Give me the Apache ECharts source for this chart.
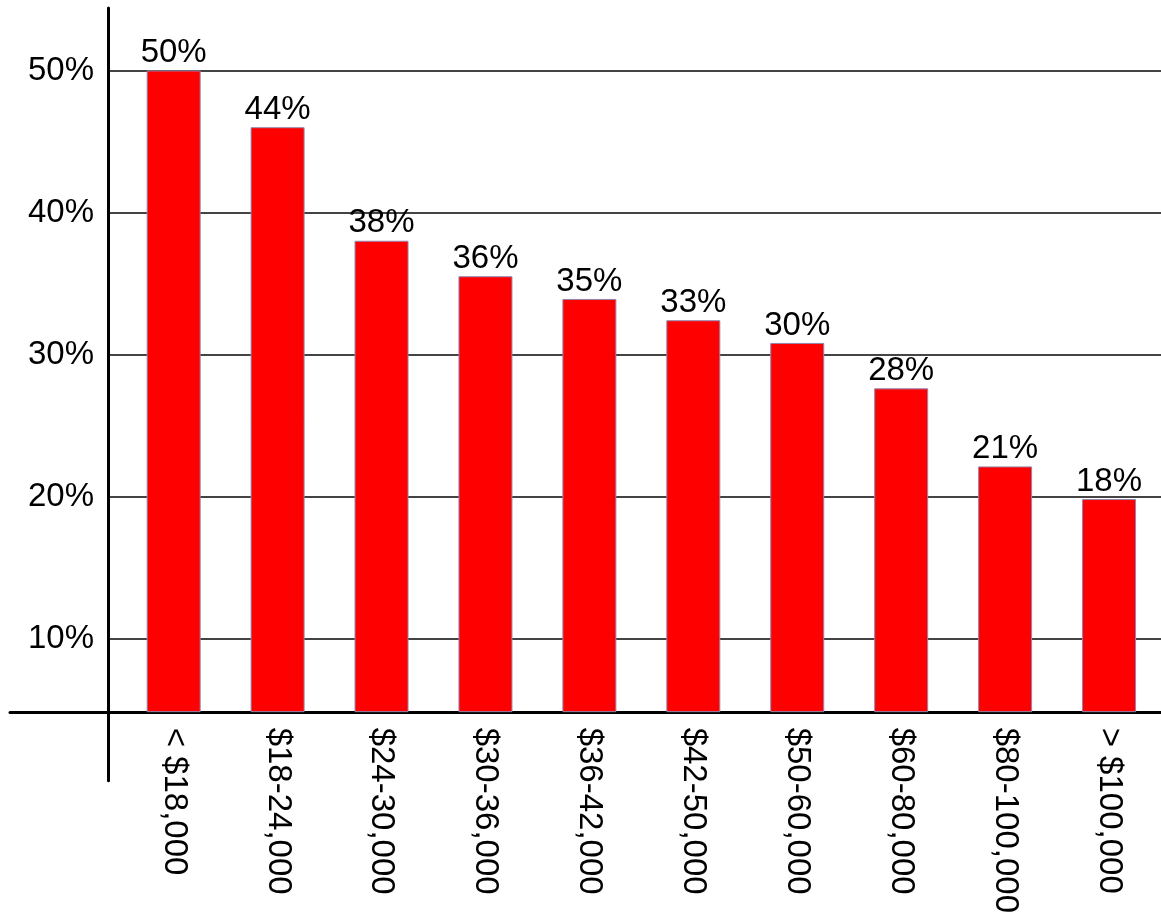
<!DOCTYPE html>
<html>
<head>
<meta charset="utf-8">
<style>
  html, body { margin: 0; padding: 0; background: #ffffff; }
  #chart { width: 1161px; height: 916px; }
</style>
<script src="https://cdn.jsdelivr.net/npm/echarts@6/dist/echarts.min.js"></script>
</head>
<body>
<div id="chart"></div>
<script>
const categories = ['< $18,000', '$18-24,000', '$24-30,000', '$30-36,000', '$36-42,000',
                    '$42-50,000', '$50-60,000', '$60-80,000', '$80-100,000', '> $100,000'];
const barValues = [50, 46.0, 38.0, 35.5, 33.9, 32.4, 30.8, 27.6, 22.1, 19.8];
const valueLabels = ['50%', '44%', '38%', '36%', '35%', '33%', '30%', '28%', '21%', '18%'];
const yTicks = [10, 20, 30, 40, 50];

const FONT = "'Liberation Sans', Arial, Helvetica, sans-serif";
const chart = echarts.init(document.getElementById('chart'), null, { renderer: 'canvas' });

const option = {
  backgroundColor: '#ffffff',
  animation: false,
  grid: [
    // 0: bars
    { left: 121.7, right: -9.6, top: 8, bottom: 204 },
    // 1: y axis + gridlines
    { left: 108, right: 0, top: 8, bottom: 135.2 },
    // 2: x axis line (extends left of y axis)
    { left: 10, right: 0, top: 8, bottom: 204 }
  ],
  xAxis: [
    {
      gridIndex: 0, type: 'category', data: categories,
      axisLine: { show: false }, axisTick: { show: false },
      axisLabel: { interval: 0, rotate: -90, margin: 16, fontSize: 33,
                   fontFamily: FONT, color: '#000' }
    },
    {
      gridIndex: 1, type: 'value', min: 0, max: 1, show: false
    },
    {
      gridIndex: 2, type: 'value', min: 0, max: 1,
      axisLine: { show: true, onZero: false, lineStyle: { color: '#000', width: 3 } },
      axisTick: { show: false }, axisLabel: { show: false }, splitLine: { show: false }
    }
  ],
  yAxis: [
    {
      gridIndex: 0, type: 'value', min: 4.82, max: 54.4, show: false
    },
    {
      gridIndex: 1, type: 'value', min: 0, max: 54.4, interval: 10,
      axisLine: { show: true, lineStyle: { color: '#000', width: 3 } },
      axisTick: { show: false },
      axisLabel: {
        margin: 14, fontSize: 33, fontFamily: FONT, color: '#000',
        formatter: v => (yTicks.indexOf(v) >= 0 ? v + '%' : '')
      },
      splitLine: { show: true, showMinLine: false, showMaxLine: false,
                   lineStyle: { color: '#444', width: 2 } }
    },
    {
      gridIndex: 2, type: 'value', min: 0, max: 1, show: false
    }
  ],
  series: [
    {
      type: 'bar',
      xAxisIndex: 0, yAxisIndex: 0,
      data: barValues,
      barWidth: 54,
      clip: true,
      itemStyle: { color: '#ff0000', borderColor: '#9386ad', borderWidth: 1 },
      label: {
        show: true, position: 'top', distance: 1,
        fontSize: 33, fontFamily: FONT, color: '#000',
        formatter: p => valueLabels[p.dataIndex]
      },
      z: 3
    }
  ]
};
chart.setOption(option);
</script>
</body>
</html>
